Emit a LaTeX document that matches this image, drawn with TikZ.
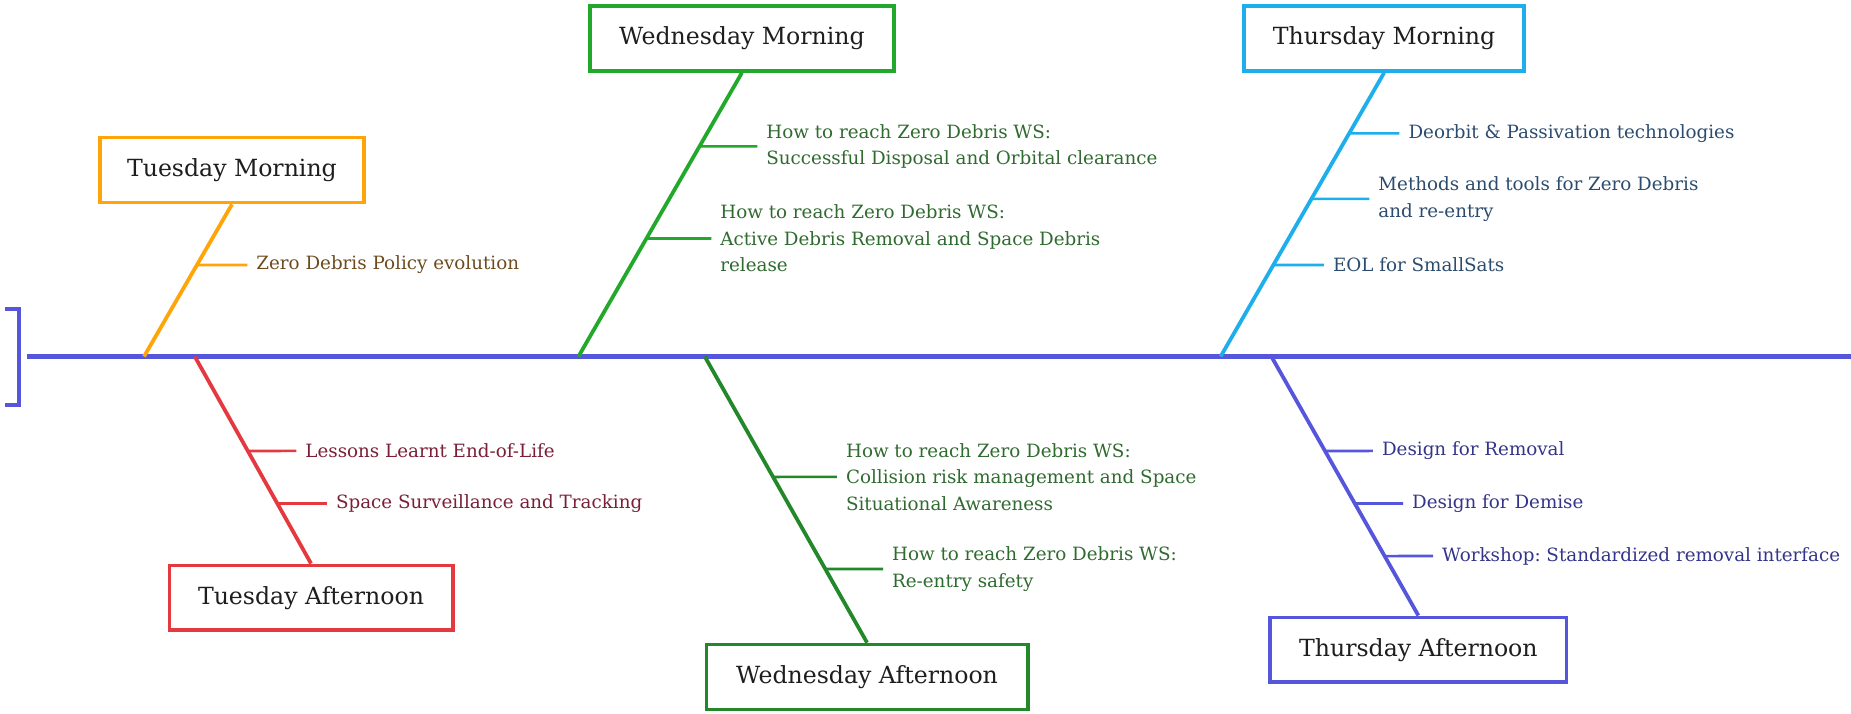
\documentclass[tikz,border=0pt]{standalone}
\usepackage{fontspec}
\setmainfont{DejaVu Serif}
\frenchspacing
\usepackage{xcolor}
\definecolor{spine}{HTML}{5656DC}
\definecolor{tuemorn}{HTML}{FFA50A}
\definecolor{tueaft}{HTML}{E53940}
\definecolor{wedmorn}{HTML}{22A82A}
\definecolor{wedaft}{HTML}{23882A}
\definecolor{thumorn}{HTML}{1EAEEC}
\definecolor{thuaft}{HTML}{5656DC}
\definecolor{tuemorntext}{HTML}{6E4B1E}
\definecolor{tueafttext}{HTML}{7A1F38}
\definecolor{wedtext}{HTML}{2F6A2F}
\definecolor{thumorntext}{HTML}{2B4C6E}
\definecolor{thuafttext}{HTML}{34348A}
\definecolor{titletext}{HTML}{1E1E1E}
\usepackage{tikz}
\usetikzlibrary{positioning,calc}
\tikzset{
  session/.style={draw, line width=3.2pt, fill=white, text=titletext, font=\fontsize{20}{24}\selectfont, minimum height=55pt, inner xsep=0pt},
  item/.style={anchor=west, inner xsep=7.5pt, inner ysep=0pt, align=left, font=\fontsize{15.5}{22.5}\selectfont},
  bone/.style={line width=3.2pt},
  twig/.style={line width=2.2pt}
}

\begin{document}
\begin{tikzpicture}[x=1pt, y=-1pt]
  \useasboundingbox (0,0) rectangle (1568,604);

  % spine and tail
  \coordinate (tail) at (23,302);
  \coordinate (head) at (1568,302);
  \draw[spine, line width=3.5pt] (tail) -- (head);
  \draw[spine, line width=3.5pt] (4,262) -- (16,262) -- (16,343) -- (4,343);

  % sessions
  \node[session, draw=tuemorn, minimum width=224pt] (tm) at (196.5,144) {Tuesday Morning};
  \node[session, draw=tueaft, minimum width=240pt] (ta) at (263.5,506.5) {Tuesday Afternoon};
  \node[session, draw=wedmorn, minimum width=257pt] (wm) at (628.5,32.5) {Wednesday Morning};
  \node[session, draw=wedaft, minimum width=272pt] (wa) at (734.5,573.5) {Wednesday Afternoon};
  \node[session, draw=thumorn, minimum width=237pt] (hm) at (1172.5,32.5) {Thursday Morning};
  \node[session, draw=thuaft, minimum width=251pt] (ha) at (1201.5,550.5) {Thursday Afternoon};

  % where the bones meet the spine
  \coordinate (tm-s) at (122,302);
  \coordinate (ta-s) at (165,302);
  \coordinate (wm-s) at (490,302);
  \coordinate (wa-s) at (597,302);
  \coordinate (hm-s) at (1034,302);
  \coordinate (ha-s) at (1077,302);

  \draw[bone, tuemorn] (tm-s) -- (tm.south);
  \draw[bone, tueaft] (ta-s) -- (ta.north);
  \draw[bone, wedmorn] (wm-s) -- (wm.south);
  \draw[bone, wedaft] (wa-s) -- (wa.north);
  \draw[bone, thumorn] (hm-s) -- (hm.south);
  \draw[bone, thuaft] (ha-s) -- (ha.north);

  % topics
  \node[item, text=tuemorntext] (tm1) at (209.5,224.5) {Zero Debris Policy evolution};

  \node[item, text=tueafttext] (ta1) at (251,382) {Lessons Learnt End-of-Life};
  \node[item, text=tueafttext] (ta2) at (277,426.5) {Space Surveillance and Tracking};

  \node[item, text=wedtext] (wm1) at (641.5,124) {How to reach Zero Debris WS:\\Successful Disposal and Orbital clearance};
  \node[item, text=wedtext] (wm2) at (602.5,202) {How to reach Zero Debris WS:\\Active Debris Removal and Space Debris\\release};

  \node[item, text=wedtext] (wa1) at (709,404) {How to reach Zero Debris WS:\\Collision risk management and Space\\Situational Awareness};
  \node[item, text=wedtext] (wa2) at (748,482) {How to reach Zero Debris WS:\\Re-entry safety};

  \node[item, text=thumorntext] (hm1) at (1185.5,113) {Deorbit \& Passivation technologies};
  \node[item, text=thumorntext] (hm2) at (1160,168.5) {Methods and tools for Zero Debris\\and re-entry};
  \node[item, text=thumorntext] (hm3) at (1121.5,224.5) {EOL for SmallSats};

  \node[item, text=thuafttext] (ha1) at (1163,382) {Design for Removal};
  \node[item, text=thuafttext] (ha2) at (1188.5,426.5) {Design for Demise};
  \node[item, text=thuafttext] (ha3) at (1214,471) {Workshop: Standardized removal interface};

  % twigs from bone to topic
  \draw[twig, tuemorn] (intersection of tm-s--tm.south and tm1.west--tm1.east) -- (tm1.west);
  \draw[twig, tueaft] (intersection of ta-s--ta.north and ta1.west--ta1.east) -- (ta1.west);
  \draw[twig, tueaft] (intersection of ta-s--ta.north and ta2.west--ta2.east) -- (ta2.west);
  \draw[twig, wedmorn] (intersection of wm-s--wm.south and wm1.west--wm1.east) -- (wm1.west);
  \draw[twig, wedmorn] (intersection of wm-s--wm.south and wm2.west--wm2.east) -- (wm2.west);
  \draw[twig, wedaft] (intersection of wa-s--wa.north and wa1.west--wa1.east) -- (wa1.west);
  \draw[twig, wedaft] (intersection of wa-s--wa.north and wa2.west--wa2.east) -- (wa2.west);
  \draw[twig, thumorn] (intersection of hm-s--hm.south and hm1.west--hm1.east) -- (hm1.west);
  \draw[twig, thumorn] (intersection of hm-s--hm.south and hm2.west--hm2.east) -- (hm2.west);
  \draw[twig, thumorn] (intersection of hm-s--hm.south and hm3.west--hm3.east) -- (hm3.west);
  \draw[twig, thuaft] (intersection of ha-s--ha.north and ha1.west--ha1.east) -- (ha1.west);
  \draw[twig, thuaft] (intersection of ha-s--ha.north and ha2.west--ha2.east) -- (ha2.west);
  \draw[twig, thuaft] (intersection of ha-s--ha.north and ha3.west--ha3.east) -- (ha3.west);
\end{tikzpicture}
\end{document}
